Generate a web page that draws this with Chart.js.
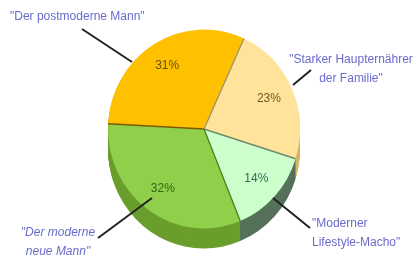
<!DOCTYPE html>
<html>
<head>
<meta charset="utf-8">
<script src="https://cdn.jsdelivr.net/npm/chart.js@4/dist/chart.umd.min.js"></script>
<style>
  html, body { margin: 0; padding: 0; background: #fff; }
  #wrap { width: 418px; height: 259px; }
</style>
</head>
<body>
<div id="wrap"><canvas id="grafico"></canvas></div>
<script>
// Daten
var kategorien = ['"Der postmoderne Mann"', '"Starker Haupternährer der Familie"', '"Moderner Lifestyle-Macho"', '"Der moderne neue Mann"'];
var anteile = [31, 23, 14, 32];
var farben = ['#ffc000', '#ffe39a', '#ccffcc', '#8fcf4a'];
var trennFarben = ['#7a5a00', '#a0906a', '#6a8a6a', '#4f7f20'];
var tiefenFarben = ['#c99400', '#d4b467', '#55715a', '#6a9e2c'];
var prozentFarben = ['#6b5000', '#6b5a20', '#2f6a55', '#2f6a15'];

// Beschriftungen außen (Text, Position, Führungslinie)
var beschriftungen = [
    { zeilen: ['"Der postmoderne Mann"'], x: 10, y: 17, align: 'left', kursiv: false, linie: [82, 29, 132, 62] },
    { zeilen: ['"Starker Haupternährer', 'der Familie"'], x: 351, y: 60, align: 'center', kursiv: false, linie: [311, 70, 293, 85] },
    { zeilen: ['"Moderner', 'Lifestyle-Macho"'], x: 312, y: 224, align: 'left', kursiv: false, linie: [273, 198, 310, 228] },
    { zeilen: ['"Der moderne', 'neue Mann"'], x: 58, y: 233, align: 'center', kursiv: true, linie: [152, 198, 98, 238] }
];

var skalaY = 1.036;
var tiefe = 20;

var pie3d = {
    id: 'pie3d',
    beforeDatasetsDraw: function(chart) {
        var ctx = chart.ctx;
        var meta = chart.getDatasetMeta(0);
        var a0 = meta.data[0];
        ctx.save();
        ctx.translate(a0.x, a0.y);
        ctx.scale(1, skalaY);
        ctx.translate(-a0.x, -a0.y);
        // Seitenwand
        for (var k = tiefe; k >= 1; k--) {
            meta.data.forEach(function(arc, i) {
                var p = arc.getProps(['x', 'y', 'startAngle', 'endAngle', 'outerRadius']);
                ctx.beginPath();
                ctx.moveTo(p.x, p.y + k / skalaY);
                ctx.arc(p.x, p.y + k / skalaY, p.outerRadius, p.startAngle, p.endAngle);
                ctx.closePath();
                ctx.fillStyle = tiefenFarben[i];
                ctx.fill();
            });
        }
    },
    afterDatasetsDraw: function(chart) {
        var ctx = chart.ctx;
        var meta = chart.getDatasetMeta(0);
        // Trennlinien zwischen den Segmenten
        meta.data.forEach(function(arc, i) {
            var p = arc.getProps(['x', 'y', 'startAngle', 'outerRadius']);
            ctx.beginPath();
            ctx.moveTo(p.x, p.y);
            ctx.lineTo(p.x + Math.cos(p.startAngle) * p.outerRadius, p.y + Math.sin(p.startAngle) * p.outerRadius);
            ctx.strokeStyle = trennFarben[i];
            ctx.lineWidth = 1.3;
            ctx.stroke();
        });
        ctx.restore();
        // Prozentwerte
        ctx.save();
        ctx.font = '12px "Liberation Sans", Arial, sans-serif';
        ctx.textAlign = 'center';
        ctx.textBaseline = 'middle';
        meta.data.forEach(function(arc, i) {
            var p = arc.getProps(['x', 'y', 'startAngle', 'endAngle', 'outerRadius']);
            var mitte = (p.startAngle + p.endAngle) / 2;
            var r = p.outerRadius * 0.74;
            ctx.fillStyle = prozentFarben[i];
            ctx.fillText(anteile[i] + '%', p.x + Math.cos(mitte) * r, p.y + Math.sin(mitte) * r * skalaY);
        });
        // Führungslinien und Texte
        beschriftungen.forEach(function(b) {
            ctx.beginPath();
            ctx.moveTo(b.linie[0], b.linie[1]);
            ctx.lineTo(b.linie[2], b.linie[3]);
            ctx.strokeStyle = '#222';
            ctx.lineWidth = 2;
            ctx.stroke();
            ctx.font = (b.kursiv ? 'italic ' : '') + '12px "Liberation Sans", Arial, sans-serif';
            ctx.fillStyle = '#6a6acd';
            ctx.textAlign = b.align;
            b.zeilen.forEach(function(z, j) {
                ctx.fillText(z, b.x, b.y + j * 19);
            });
        });
        ctx.restore();
    }
};

new Chart(document.getElementById('grafico').getContext('2d'), {
    type: 'pie',
    data: {
        labels: kategorien,
        datasets: [{
            data: anteile,
            backgroundColor: farben,
            borderWidth: 0
        }]
    },
    options: {
        responsive: true,
        maintainAspectRatio: false,
        animation: false,
        rotation: -87,
        layout: { padding: { left: 108, right: 118, top: 33, bottom: 34 } },
        plugins: {
            legend: { display: false },
            tooltip: { enabled: false }
        }
    },
    plugins: [pie3d]
});
</script>
</body>
</html>
